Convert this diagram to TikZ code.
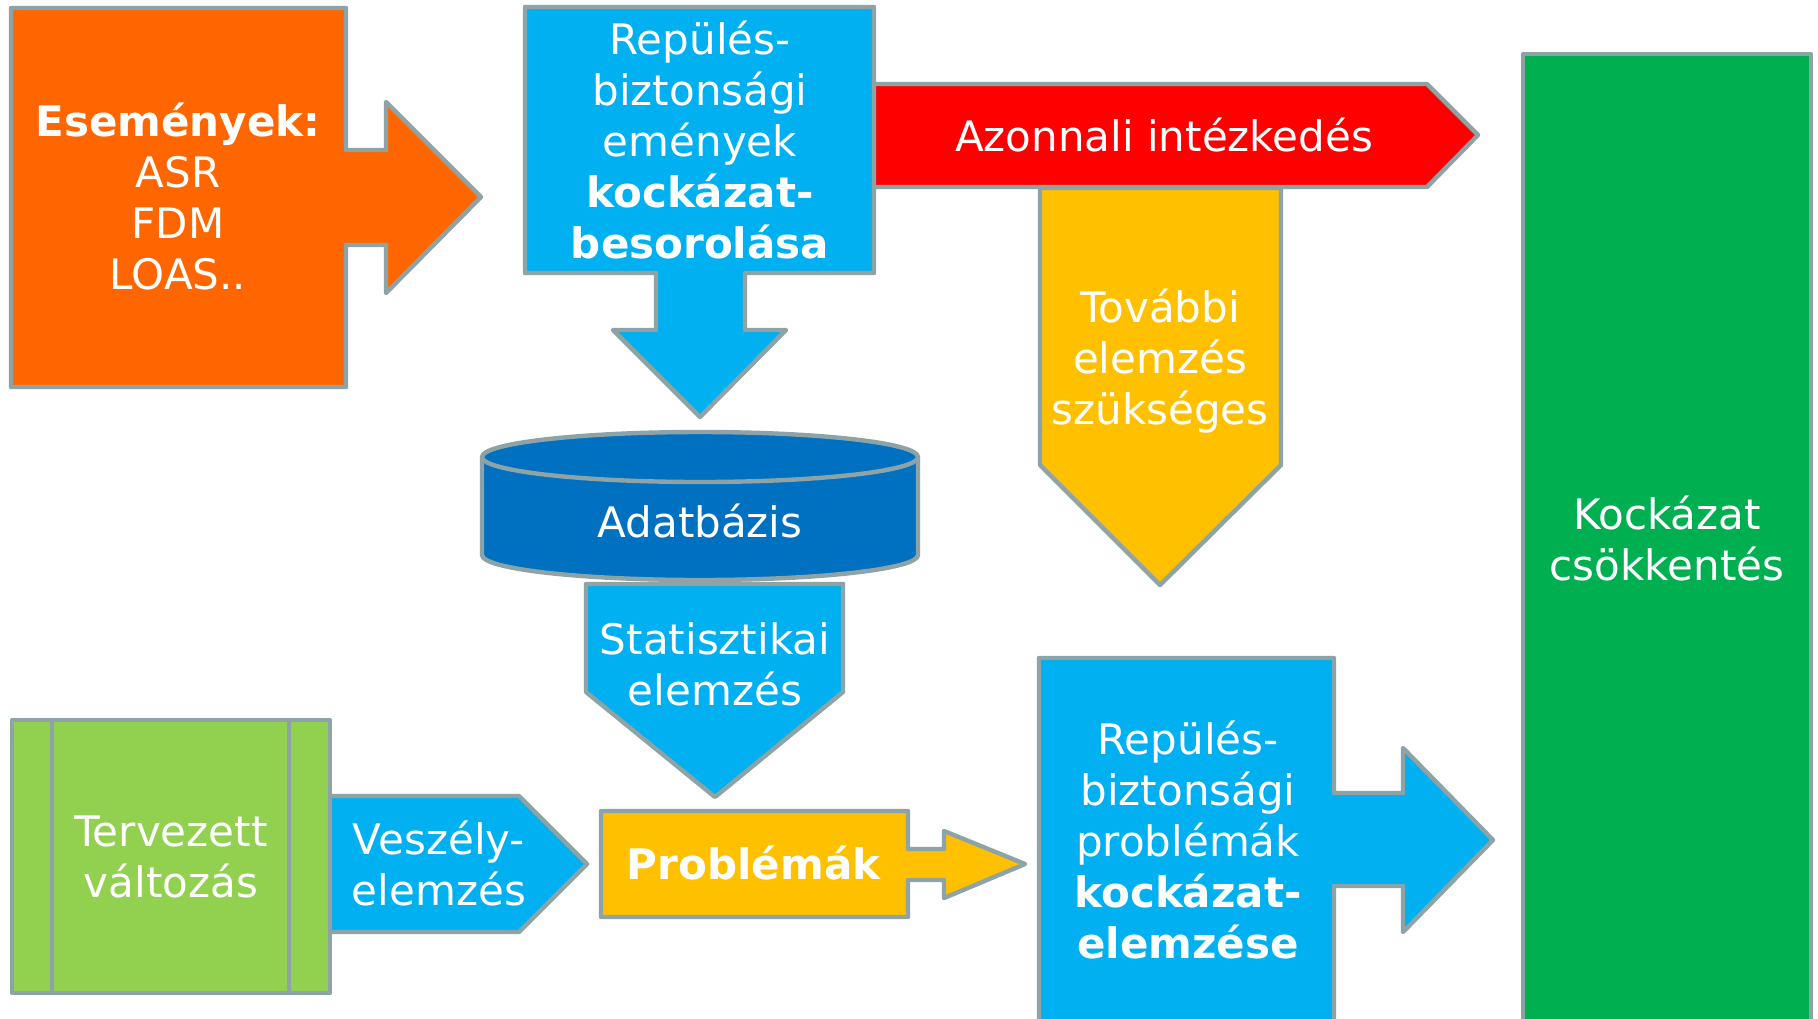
\documentclass[tikz,border=0pt]{standalone}
\usepackage{fontspec}
\setmainfont{DejaVu Sans}
\definecolor{rim}     {HTML}{8DA3A6}
\definecolor{narancs} {HTML}{FF6600}
\definecolor{egkek}   {HTML}{00B0F0}
\definecolor{piros}   {HTML}{FF0000}
\definecolor{sarga}   {HTML}{FFC000}
\definecolor{zold}    {HTML}{00B050}
\definecolor{vilzold} {HTML}{92D050}
\definecolor{sotetkek}{HTML}{0070C0}
\tikzset{
  blk/.style={draw=rim,line width=2.2pt,line join=round},
  lbl/.style={text=white,align=center,inner sep=0pt,
              font=\fontsize{21}{25.5}\selectfont},
}

\begin{document}
\begin{tikzpicture}[x=0.5pt,y=-0.5pt]
  \useasboundingbox (0,0) rectangle (1818,1018);
  \fill[white] (0,0) rectangle (1818,1018);

  % top row
  \draw[blk,fill=narancs] (11,8) -- (346,8) -- (346,150) -- (386,150) -- (386,102)
    -- (481,197) -- (386,293) -- (386,245) -- (346,245) -- (346,387) -- (11,387) -- cycle;
  \draw[blk,fill=piros] (870,84) -- (1427,84) -- (1478,135) -- (1427,187) -- (870,187) -- cycle;
  \draw[blk,fill=sarga] (1040,188) -- (1281,188) -- (1281,465) -- (1160,585) -- (1040,465) -- cycle;
  \draw[blk,fill=egkek] (525,7) -- (874,7) -- (874,273) -- (745,273) -- (745,330) -- (786,330)
    -- (700,417) -- (613,330) -- (656,330) -- (656,273) -- (525,273) -- cycle;
  \draw[blk,fill=zold] (1523,54) rectangle (1811,1040);

  % database and statistics
  \draw[blk,fill=egkek] (586,584) -- (843,584) -- (843,692) -- (715,797) -- (586,692) -- cycle;
  \draw[blk,fill=sotetkek] (482,457) -- (482,555)
    arc[start angle=180,end angle=0,x radius=218,y radius=25] -- (918,457);
  \draw[blk,fill=sotetkek] (700,457) ellipse (218 and 25);

  % bottom row
  \draw[blk,fill=vilzold] (12,720) rectangle (330,993);
  \draw[blk] (52,720) -- (52,993) (289,720) -- (289,993);
  \draw[blk,fill=egkek] (330,796) -- (519,796) -- (587,864) -- (519,932) -- (330,932) -- cycle;
  \draw[blk,fill=sarga] (601,811) -- (908,811) -- (908,849) -- (944,849) -- (944,831)
    -- (1025,864) -- (944,898) -- (944,880) -- (908,880) -- (908,917) -- (601,917) -- cycle;
  \draw[blk,fill=egkek] (1039,658) -- (1334,658) -- (1334,793) -- (1403,793) -- (1403,748)
    -- (1493,840) -- (1403,932) -- (1403,886) -- (1334,886) -- (1334,1040) -- (1039,1040) -- cycle;

  % texts
  \node[lbl] (esem) at (178,196) {\textbf{Események:}\\ASR\\FDM\\LOAS..};
  \node[lbl] (besor) at (700,140) {Repülés-\\biztonsági\\emények\\\textbf{kockázat-}\\\textbf{besorolása}};
  \node[lbl] (azonn) at (1164,135) {Azonnali intézkedés};
  \node[lbl] (tovabb) at (1160,361) {További\\elemzés\\szükséges};
  \node[lbl] (csokk) at (1667,538) {Kockázat\\csökkentés};
  \node[lbl] (adatb) at (700,521) {Adatbázis};
  \node[lbl] (stat) at (715,664) {Statisztikai\\elemzés};
  \node[lbl] (terv) at (171,857) {Tervezett\\változás};
  \node[lbl] (vesz) at (439,863) {Veszély-\\elemzés};
  \node[lbl] (probl) at (754,863) {\textbf{Problémák}};
  \node[lbl] (elemz) at (1188,840) {Repülés-\\biztonsági\\problémák\\\textbf{kockázat-}\\\textbf{elemzése}};
\end{tikzpicture}
\end{document}
